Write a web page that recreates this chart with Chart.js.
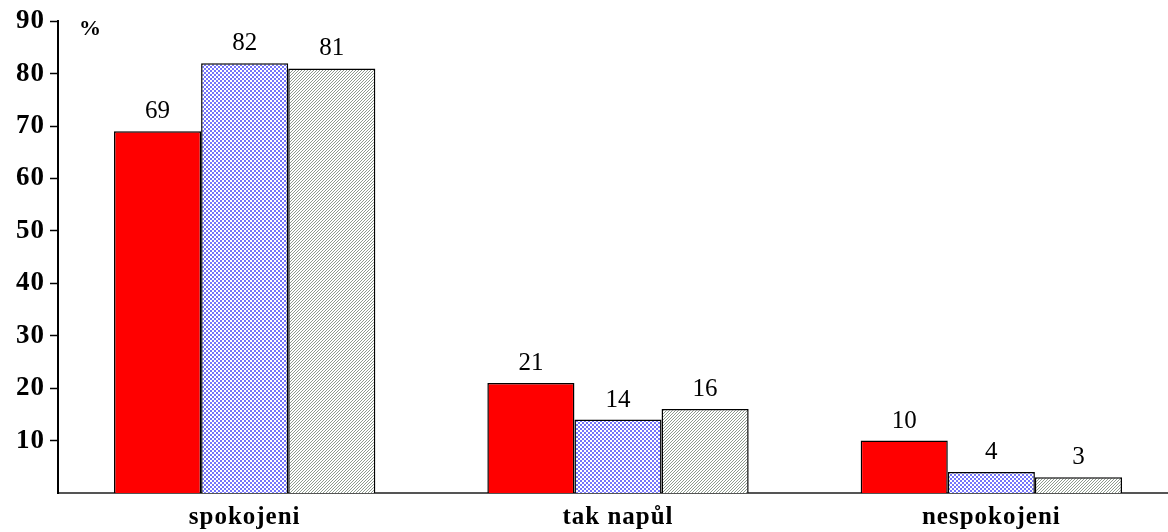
<!DOCTYPE html>
<html>
<head>
<meta charset="utf-8">
<script src="https://cdn.jsdelivr.net/npm/chart.js@4/dist/chart.umd.min.js"></script>
<style>
html,body{margin:0;padding:0;background:#fff;overflow:hidden;width:1168px;height:532px;}
canvas{display:block;}
</style>
</head>
<body>
<canvas id="c" width="1180" height="532"></canvas>
<script>
const categories = ["spokojeni", "tak napůl", "nespokojeni"];
const series1 = [69, 21, 10];
const series2 = [82, 14, 4];
const series3 = [81, 16, 3];
const yTicks = [10, 20, 30, 40, 50, 60, 70, 80, 90];
const unitLabel = "%";

function makeChecker(){
  const p = document.createElement('canvas'); p.width = 4; p.height = 4;
  const g = p.getContext('2d');
  g.fillStyle = '#ffffff'; g.fillRect(0,0,4,4);
  g.fillStyle = '#7474fa';
  g.fillRect(0,0,2,2); g.fillRect(2,2,2,2);
  return g.createPattern(p,'repeat');
}
function makeHatch(){
  const p = document.createElement('canvas'); p.width = 3; p.height = 3;
  const g = p.getContext('2d');
  g.fillStyle = '#ffffff'; g.fillRect(0,0,3,3);
  g.fillStyle = '#8e9a8e';
  g.fillRect(2,0,1,1); g.fillRect(1,1,1,1); g.fillRect(0,2,1,1);
  return g.createPattern(p,'repeat');
}

const serif = "'Liberation Serif','Times New Roman',serif";

const spacingPlugin = {
  id: 'spacing',
  beforeDraw(chart){ chart.ctx.letterSpacing = '1px'; },
  beforeDatasetsDraw(chart){ chart.ctx.letterSpacing = '0px'; }
};

const labelPlugin = {
  id: 'labels',
  afterDatasetsDraw(chart){
    const ctx = chart.ctx;
    ctx.save();
    ctx.letterSpacing = '0px';
    ctx.fillStyle = '#000';
    ctx.font = "25px " + serif;
    ctx.textAlign = 'center';
    ctx.textBaseline = 'alphabetic';
    chart.data.datasets.forEach((ds, i) => {
      chart.getDatasetMeta(i).data.forEach((bar, j) => {
        ctx.fillText(String(ds.data[j]), bar.x, bar.y - 13);
      });
    });
    ctx.font = "bold 22px " + serif;
    ctx.textAlign = 'left';
    ctx.textBaseline = 'middle';
    ctx.fillText(unitLabel, chart.chartArea.left + 21, chart.scales.y.getPixelForValue(88.5));
    ctx.restore();
  }
};

new Chart(document.getElementById('c'), {
  type: 'bar',
  data: {
    labels: categories,
    datasets: [
      {data: series1, backgroundColor: '#ff0000', borderColor: '#000', borderWidth: 1.5},
      {data: series2, backgroundColor: makeChecker(), borderColor: '#000', borderWidth: 1.5},
      {data: series3, backgroundColor: makeHatch(), borderColor: '#000', borderWidth: 1.5}
    ]
  },
  options: {
    responsive: false,
    animation: false,
    layout: {padding: {top: 0, right: 2, left: 0, bottom: 0}},
    categoryPercentage: 0.7,
    barPercentage: 1.0,
    plugins: {legend: {display: false}, tooltip: {enabled: false}},
    scales: {
      x: {
        grid: {display: false, drawTicks: false},
        border: {display: true, color: '#555', width: 2},
        ticks: {color: '#000', font: {family: serif, size: 25, weight: 'bold'}, padding: 10, maxRotation: 0},
        afterFit(s){ s.height = 39; }
      },
      y: {
        min: 0, max: 90,
        afterBuildTicks(s){ s.ticks = yTicks.map(v => ({value: v})); },
        grid: {drawOnChartArea: false, drawTicks: true, tickLength: 8, color: '#000', tickWidth: 1.5},
        border: {display: true, color: '#000', width: 2},
        ticks: {color: '#000', font: {family: serif, size: 27, weight: 'bold'}, padding: 5},
        afterFit(s){ s.width = 58; }
      }
    }
  },
  plugins: [spacingPlugin, labelPlugin]
});
</script>
</body>
</html>
